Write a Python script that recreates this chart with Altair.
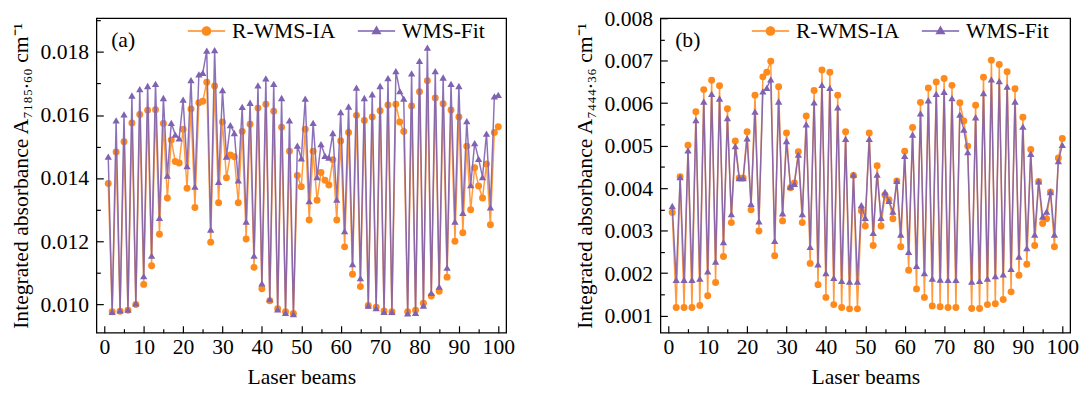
import altair as alt
import pandas as pd

beams = list(range(1, 101))

a_rwms = [0.01383, 0.00976, 0.01483, 0.00978, 0.01515, 0.00981, 0.01575, 0.00999, 0.01602, 0.01063,
          0.01615, 0.01122, 0.01617, 0.01222, 0.01573, 0.01337, 0.01521, 0.01453, 0.01448, 0.01555,
          0.01368, 0.01619, 0.01307, 0.01639, 0.01644, 0.01704, 0.01197, 0.01692, 0.01322, 0.01578,
          0.01401, 0.01473, 0.01468, 0.01322, 0.01548, 0.01207, 0.01571, 0.01117, 0.01622, 0.01049,
          0.01634, 0.01011, 0.01612, 0.00986, 0.01561, 0.00976, 0.01485, 0.00971, 0.01408, 0.01373,
          0.01555, 0.01267, 0.01485, 0.01330, 0.01418, 0.01393, 0.01378, 0.01458, 0.01267, 0.01518,
          0.01182, 0.01545, 0.01095, 0.01599, 0.01056, 0.01583, 0.00996, 0.01594, 0.00991, 0.01614,
          0.00979, 0.01632, 0.00976, 0.01634, 0.01578, 0.01548, 0.00976, 0.01629, 0.00981, 0.01674,
          0.01003, 0.01709, 0.01026, 0.01654, 0.01041, 0.01636, 0.01086, 0.01616, 0.01200, 0.01594,
          0.01227, 0.01501, 0.01300, 0.01433, 0.01375, 0.01337, 0.01445, 0.01252, 0.01545, 0.01563]

a_fit = [0.01468, 0.00976, 0.01583, 0.00981, 0.01602, 0.00983, 0.01662, 0.01003, 0.01682, 0.01089,
         0.01692, 0.01154, 0.01699, 0.01274, 0.01654, 0.01408, 0.01575, 0.01538, 0.01526, 0.01649,
         0.01438, 0.01711, 0.01373, 0.01729, 0.01734, 0.01804, 0.01237, 0.01806, 0.01388, 0.01679,
         0.01468, 0.01568, 0.01543, 0.01393, 0.01626, 0.01262, 0.01639, 0.01154, 0.01694, 0.01066,
         0.01716, 0.01016, 0.01699, 0.00984, 0.01654, 0.00973, 0.01583, 0.00969, 0.01503, 0.01463,
         0.01652, 0.01327, 0.01575, 0.01403, 0.01508, 0.01471, 0.01465, 0.01543, 0.01332, 0.01609,
         0.01232, 0.01627, 0.01127, 0.01687, 0.01083, 0.01654, 0.00996, 0.01666, 0.00988, 0.01692,
         0.00976, 0.01717, 0.00976, 0.01739, 0.01676, 0.01652, 0.00971, 0.01732, 0.00973, 0.01772,
         0.00996, 0.01814, 0.01036, 0.01739, 0.01056, 0.01719, 0.01116, 0.01699, 0.01262, 0.01692,
         0.01290, 0.01581, 0.01378, 0.01511, 0.01461, 0.01403, 0.01541, 0.01307, 0.01659, 0.01664]

b_rwms = [0.00343, 0.00119, 0.00427, 0.00119, 0.00501, 0.00119, 0.00580, 0.00124, 0.00632, 0.00147,
          0.00654, 0.00178, 0.00641, 0.00239, 0.00587, 0.00319, 0.00511, 0.00424, 0.00424, 0.00533,
          0.00349, 0.00619, 0.00299, 0.00662, 0.00673, 0.00699, 0.00241, 0.00639, 0.00323, 0.00530,
          0.00401, 0.00412, 0.00486, 0.00319, 0.00570, 0.00223, 0.00630, 0.00173, 0.00678, 0.00143,
          0.00673, 0.00126, 0.00619, 0.00119, 0.00533, 0.00116, 0.00430, 0.00116, 0.00347, 0.00311,
          0.00530, 0.00265, 0.00453, 0.00311, 0.00384, 0.00373, 0.00328, 0.00417, 0.00262, 0.00487,
          0.00207, 0.00543, 0.00163, 0.00602, 0.00143, 0.00636, 0.00123, 0.00650, 0.00121, 0.00658,
          0.00119, 0.00642, 0.00119, 0.00601, 0.00558, 0.00499, 0.00117, 0.00595, 0.00117, 0.00661,
          0.00126, 0.00701, 0.00128, 0.00691, 0.00138, 0.00674, 0.00156, 0.00634, 0.00195, 0.00567,
          0.00221, 0.00491, 0.00265, 0.00416, 0.00317, 0.00328, 0.00391, 0.00262, 0.00471, 0.00517]

b_fit = [0.00358, 0.00184, 0.00426, 0.00184, 0.00489, 0.00184, 0.00560, 0.00187, 0.00604, 0.00204,
         0.00622, 0.00227, 0.00611, 0.00273, 0.00565, 0.00339, 0.00499, 0.00424, 0.00424, 0.00517,
         0.00363, 0.00580, 0.00322, 0.00628, 0.00636, 0.00656, 0.00276, 0.00604, 0.00341, 0.00511,
         0.00404, 0.00410, 0.00479, 0.00339, 0.00550, 0.00262, 0.00602, 0.00221, 0.00643, 0.00200,
         0.00636, 0.00189, 0.00590, 0.00182, 0.00516, 0.00180, 0.00432, 0.00180, 0.00360, 0.00330,
         0.00516, 0.00295, 0.00432, 0.00330, 0.00391, 0.00370, 0.00345, 0.00417, 0.00291, 0.00476,
         0.00250, 0.00526, 0.00217, 0.00576, 0.00200, 0.00607, 0.00187, 0.00622, 0.00185, 0.00627,
         0.00184, 0.00612, 0.00184, 0.00573, 0.00538, 0.00485, 0.00180, 0.00567, 0.00182, 0.00624,
         0.00187, 0.00656, 0.00193, 0.00652, 0.00197, 0.00639, 0.00210, 0.00604, 0.00239, 0.00545,
         0.00259, 0.00481, 0.00291, 0.00416, 0.00333, 0.00345, 0.00391, 0.00291, 0.00464, 0.00502]

series_names = ["R-WMS-IA", "WMS-Fit"]
panel_tags = ["(a)", "(b)"]
y_titles = ["Integrated absorbance A₇₁₈₅.₆₀ cm⁻¹", "Integrated absorbance A₇₄₄₄.₃₆ cm⁻¹"]
x_title = "Laser beams"
x_major = list(range(0, 101, 10))
x_minor = list(range(5, 100, 10))
a_major = [0.010, 0.012, 0.014, 0.016, 0.018]
a_minor = [0.011, 0.013, 0.015, 0.017, 0.019]
b_major = [0.001, 0.002, 0.003, 0.004, 0.005, 0.006, 0.007, 0.008]
b_minor = [0.0015, 0.0025, 0.0035, 0.0045, 0.0055, 0.0065, 0.0075]

ORANGE = "#FF8A1C"
PURPLE = "#7F62B1"
FONT = "Liberation Serif"
W, H = 417, 320
FS = 22

LEG_CIRCLE = ("M-1,-0.045L-0.26,-0.045L-0.26,0.045L-1,0.045Z "
              "M0.26,-0.045L1,-0.045L1,0.045L0.26,0.045Z "
              "M-0.26,0A0.26,0.26 0 1,0 0.26,0A0.26,0.26 0 1,0 -0.26,0Z")
LEG_TRI = "M-1,-0.045L1,-0.045L1,0.045L-1,0.045Z M0,-0.3L0.27,0.18L-0.27,0.18Z"


def panel(rwms, fit, tag, ytitle, ydom, ymaj, ymin):
    n = len(beams)
    df = pd.DataFrame({"beam": beams + beams, "value": rwms + fit,
                       "series": [series_names[0]] * n + [series_names[1]] * n})
    base = alt.Chart(df)
    xs = alt.Scale(domain=[-2, 102], nice=False, zero=False)
    ys = alt.Scale(domain=ydom, nice=False, zero=False)
    x_major_axis = alt.Axis(orient="bottom", values=x_major, format="d", tickSize=7, offset=-7,
                            labelPadding=4, domain=False, grid=False, title=x_title,
                            titlePadding=10, labelFlush=False)
    x_minor_axis = alt.Axis(orient="bottom", values=x_minor, tickSize=4, offset=-4,
                            labels=False, domain=False, grid=False, title=None)
    y_major_axis = alt.Axis(orient="left", values=ymaj, format=".3f", tickSize=7, offset=-7,
                            labelPadding=8, domain=False, grid=False, title=ytitle,
                            titlePadding=8, labelFlush=False)
    y_minor_axis = alt.Axis(orient="left", values=ymin, tickSize=4, offset=-4,
                            labels=False, domain=False, grid=False, title=None)
    o = base.transform_filter(alt.datum.series == series_names[0])
    p = base.transform_filter(alt.datum.series == series_names[1])
    l1 = o.mark_line(color=ORANGE, strokeWidth=1.5, opacity=0.85).encode(
        x=alt.X("beam:Q", scale=xs, axis=x_major_axis),
        y=alt.Y("value:Q", scale=ys, axis=y_major_axis))
    l2 = o.mark_point(filled=True, color=ORANGE, size=50, opacity=1, shape="circle").encode(
        x=alt.X("beam:Q", scale=xs, axis=x_minor_axis),
        y=alt.Y("value:Q", scale=ys, axis=y_minor_axis))
    l3 = p.mark_line(color=PURPLE, strokeWidth=1.5, opacity=0.9).encode(
        x=alt.X("beam:Q", scale=xs, axis=None),
        y=alt.Y("value:Q", scale=ys, axis=None))
    l4 = p.mark_point(filled=True, color=PURPLE, size=55, opacity=1, shape="triangle-up").encode(
        x=alt.X("beam:Q", scale=xs, axis=None),
        y=alt.Y("value:Q", scale=ys, axis=None))
    legend = alt.Legend(orient="none", legendX=93, legendY=-6, direction="horizontal",
                        title=None, symbolSize=1444, symbolStrokeWidth=0, symbolOpacity=1,
                        labelFont=FONT, labelFontSize=FS, labelColor="black", labelOffset=7,
                        columnPadding=22, padding=0)
    leg = base.transform_filter("false").mark_point(filled=True, opacity=1, size=1444).encode(
        x=alt.X("beam:Q", scale=xs, axis=None),
        y=alt.Y("value:Q", scale=ys, axis=None),
        color=alt.Color("series:N", scale=alt.Scale(domain=series_names, range=[ORANGE, PURPLE]),
                        legend=legend),
        shape=alt.Shape("series:N", scale=alt.Scale(domain=series_names, range=[LEG_CIRCLE, LEG_TRI]),
                        legend=legend))
    txt = alt.Chart(pd.DataFrame({"tag": [tag]})).mark_text(
        align="left", baseline="middle", font=FONT, fontSize=FS, color="black").encode(
        x=alt.value(15), y=alt.value(22), text="tag:N")
    return alt.layer(l1, l2, l3, l4, leg, txt).resolve_axis(
        x="independent", y="independent").properties(width=W, height=H)


pa = panel(a_rwms, a_fit, panel_tags[0], y_titles[0], [0.0091, 0.01907], a_major, a_minor)
pb = panel(b_rwms, b_fit, panel_tags[1], y_titles[1], [0.0006, 0.008], b_major, b_minor)

chart = alt.hconcat(pa, pb, spacing=57).resolve_scale(
    x="independent", y="independent", color="independent", shape="independent"
).resolve_legend(color="independent", shape="independent").properties(
    padding={"left": 0, "top": -5, "right": 0, "bottom": 0},
    autosize=alt.AutoSizeParams(type="pad", contains="content")
).configure_view(stroke="black", strokeWidth=1.3).configure_axis(
    labelFont=FONT, labelFontSize=FS, titleFont=FONT, titleFontSize=FS,
    titleFontWeight="normal", labelColor="black", titleColor="black",
    tickColor="black", tickWidth=1.2)

chart.save("out.html", embed_options={"renderer": "svg", "actions": False})
